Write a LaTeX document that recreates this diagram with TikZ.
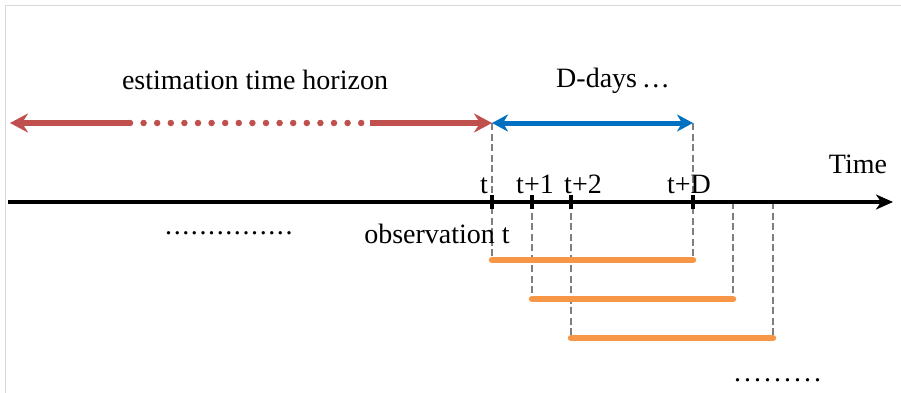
\documentclass[tikz,border=0pt]{standalone}
\usepackage{fontspec}
\setmainfont{Liberation Serif}
\usetikzlibrary{arrows.meta}
\definecolor{redc}{HTML}{C0504D}
\definecolor{bluec}{HTML}{0070C0}
\definecolor{orangec}{HTML}{F79646}
\definecolor{greyc}{HTML}{7F7F7F}
\definecolor{framec}{HTML}{D9D9D9}
\begin{document}
\begin{tikzpicture}[x=1pt,y=-1pt,
  lbl/.style={font=\fontsize{28}{32}\selectfont, anchor=base, inner sep=0pt},
  redline/.style={draw=redc, line width=6pt},
  guide/.style={draw=greyc, line width=2pt, dash pattern=on 7pt off 3.5pt},
  bar/.style={draw=orangec, line width=6.5pt, line cap=round},
  tick/.style={draw=black, line width=3.5pt}]
\useasboundingbox (0,0) rectangle (901,393);
\fill[white] (0,0) rectangle (901,393);
\draw[framec, line width=1.5pt] (5.5,393) -- (5.5,5.5) -- (901,5.5);

% coordinates
\coordinate (rL) at (10,123);
\coordinate (rA) at (130,123);
\coordinate (rB) at (370,123);
\coordinate (t0top) at (492,123);
\coordinate (tDtop) at (693,123);
\coordinate (axL) at (8,202);
\coordinate (axR) at (893,202);
\foreach \n/\x in {t0/492,t1/532,t2/571,tD/693,tE/733,tF/773}{
  \coordinate (\n) at (\x,202);
}
\coordinate (b1L) at (492,260); \coordinate (b1R) at (693,260);
\coordinate (b2L) at (532,299); \coordinate (b2R) at (733,299);
\coordinate (b3L) at (571,338); \coordinate (b3R) at (773,338);

% guides
\draw[guide] (t0top) -- (b1L);
\draw[guide] (tDtop) -- (b1R);
\draw[guide] (t1) -- (b2L);
\draw[guide] (t2) -- (b3L);
\draw[guide] (tE) -- (b2R);
\draw[guide] (tF) -- (b3R);

% red estimation arrow
\draw[redline, {Stealth[length=18pt,width=19pt,inset=6pt]}-] (rL) -- (rA);
\draw[redline, -{Stealth[length=18pt,width=19pt,inset=6pt]}] (rB) -- (t0top);
\draw[draw=redc, line width=6.5pt, line cap=round, dash pattern=on 0pt off 13.6pt, dash phase=-13.6pt] (rA) -- (rB);

% blue D-days arrow
\draw[draw=bluec, line width=5pt, {Stealth[length=16pt,width=17pt,inset=5pt]}-{Stealth[length=16pt,width=17pt,inset=5pt]}] (t0top) -- (tDtop);

% axis
\draw[black, line width=3.5pt, -{Stealth[length=17pt,width=15pt,inset=5pt]}] (axL) -- (axR);
\foreach \n in {t0,t1,t2,tD}{
  \draw[tick] ([yshift=-7pt]\n) -- ([yshift=7pt]\n);
}

% orange bars
\draw[bar] (b1L) -- (b1R);
\draw[bar] (b2L) -- (b2R);
\draw[bar] (b3L) -- (b3R);

% labels
\node[lbl] (lest) at (255,90) {estimation time horizon};
\node[lbl] (ldd) at (613,88) {D-days\,\ldots};
\node[lbl] (ltime) at (858,173) {Time};
\node[lbl] (lt0) at (484,193) {t};
\node[lbl] (lt1) at (535,193) {t+1};
\node[lbl] (lt2) at (583,193) {t+2};
\node[lbl] (ltD) at (689,193) {t+D};
\node[lbl] (lobs) at (437,243) {observation t};
\node[lbl, anchor=base west] (dots1) at (165,234) {.\kern1.6pt.\kern1.6pt.\kern1.6pt.\kern1.6pt.\kern1.6pt.\kern1.6pt.\kern1.6pt.\kern1.6pt.\kern1.6pt.\kern1.6pt.\kern1.6pt.\kern1.6pt.\kern1.6pt.\kern1.6pt.};
\node[lbl, anchor=base west] (dots2) at (734,381) {.\kern3pt.\kern3pt.\kern3pt.\kern3pt.\kern3pt.\kern3pt.\kern3pt.\kern3pt.};
\end{tikzpicture}
\end{document}
